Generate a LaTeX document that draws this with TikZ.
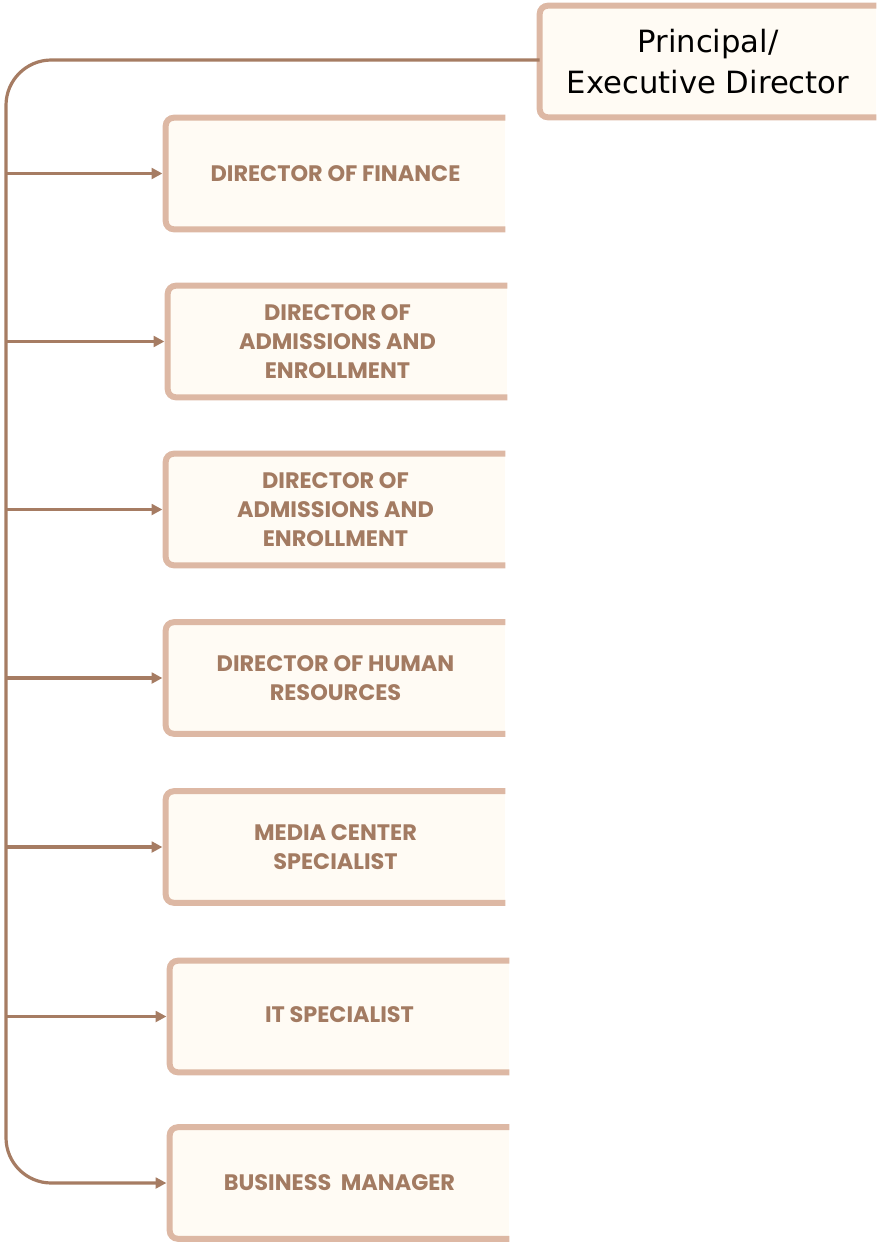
\documentclass[tikz,border=0pt]{standalone}
\usepackage{fontspec}
\setmainfont{DejaVu Sans}
\newfontfamily\boxfont{Poppins}
\usetikzlibrary{arrows.meta}
\definecolor{bordc}{HTML}{DDB8A4}
\definecolor{fillc}{HTML}{FFFBF4}
\definecolor{linec}{HTML}{A67C63}
\definecolor{textc}{HTML}{A37B62}
\tikzset{
  boxbody/.style={fill=fillc, inner sep=0pt, minimum width=339*0.75pt, minimum height=111*0.75pt,
    align=center, text=textc, font=\boxfont\bfseries\fontsize{16.8}{22}\selectfont},
  topbody/.style={fill=fillc, inner sep=0pt, minimum width=336*0.75pt, minimum height=111*0.75pt,
    align=center, text=black, font=\fontsize{23}{30.75}\selectfont},
  boxedge/.style={draw=bordc, line width=4.5pt, rounded corners=6pt},
  conn/.style={draw=linec, line width=2.4pt},
  arr/.style={conn, -{Triangle[length=8pt,width=8pt]}},
}
\begin{document}
\begin{tikzpicture}[x=0.75pt,y=-0.75pt]
\useasboundingbox (0,0) rectangle (882,1245);
% top node
\node[topbody] (top) at (708,61.5) {Principal/\\Executive Director};
\draw[boxedge] (top.north east) -- (top.north west) -- (top.south west) -- (top.south east);
% boxes
\node[boxbody] (b1) at (335.5,173.5) {\raisebox{-4pt}{DIRECTOR OF FINANCE}};
\node[boxbody] (b2) at (337.5,341.5) {DIRECTOR OF\\ADMISSIONS AND\\ENROLLMENT};
\node[boxbody] (b3) at (335.5,509.5) {DIRECTOR OF\\ADMISSIONS AND\\ENROLLMENT};
\node[boxbody] (b4) at (335.5,678) {DIRECTOR OF HUMAN\\RESOURCES};
\node[boxbody] (b5) at (335.5,847) {MEDIA CENTER\\SPECIALIST};
\node[boxbody] (b6) at (339.5,1016.5) {\raisebox{3pt}{IT SPECIALIST}};
\node[boxbody] (b7) at (339.5,1183) {BUSINESS\ \ MANAGER};
\foreach \b in {b1,b2,b3,b4,b5,b6,b7}{
  \draw[boxedge] (\b.north east) -- (\b.north west) -- (\b.south west) -- (\b.south east);
}
% trunk
\coordinate (tl) at (6,60);
\coordinate (bl) at (6,1183);
\draw[conn, rounded corners=34pt, -{Triangle[length=8pt,width=8pt]}] (top.west |- tl) -- (tl) -- (bl) -- ([xshift=-2.5pt]b7.west);
\foreach \b in {b1,b2,b3,b4,b5,b6}{
  \draw[arr] (\b.west -| tl) -- ([xshift=-2.5pt]\b.west);
}
\end{tikzpicture}
\end{document}
